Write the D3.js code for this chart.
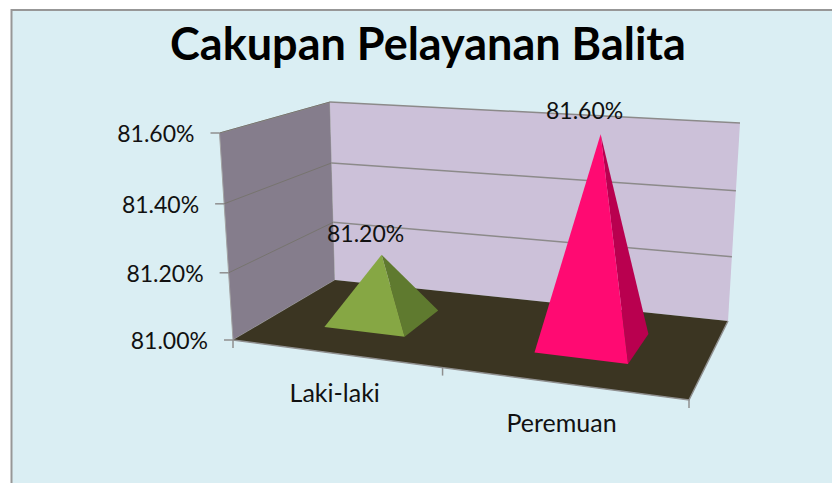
<!DOCTYPE html>
<html>
<head>
<meta charset="utf-8">
<script src="https://cdn.jsdelivr.net/npm/d3@7"></script>
<style>
  html, body { margin: 0; padding: 0; background: #fff; overflow: hidden; }
  text { font-family: Lato, sans-serif; fill: #111; }
</style>
</head>
<body>
<div id="chart"></div>
<script>
const categories = ["Laki-laki", "Peremuan"];
const values = [0.812, 0.816];
const yTicks = [0.81, 0.812, 0.814, 0.816];
const colors = ["#86a744", "#ff0a72"];
const sideColors = ["#5f7a2f", "#b9004f"];

const width = 832;
const height = 483;
const pct = d3.format(".2%");

// corners of the 3d box on screen, floor and top plane
const floor = [[233, 340], [689, 400], [728, 321], [335, 280]];
const top3d = [[219.5, 133], [700, 163], [740, 123], [330, 102]];

// unit square -> quad
function quadMap(q) {
    const [[x0, y0], [x1, y1], [x2, y2], [x3, y3]] = q;
    const dx1 = x1 - x2, dx2 = x3 - x2, sx = x0 - x1 + x2 - x3;
    const dy1 = y1 - y2, dy2 = y3 - y2, sy = y0 - y1 + y2 - y3;
    const den = dx1 * dy2 - dx2 * dy1;
    const g = (sx * dy2 - dx2 * sy) / den;
    const h = (dx1 * sy - sx * dy1) / den;
    return (u, w) => {
        const d = 1 + g * u + h * w;
        return [
            (x0 + (x1 - x0 + g * x1) * u + (x3 - x0 + h * x3) * w) / d,
            (y0 + (y1 - y0 + g * y1) * u + (y3 - y0 + h * y3) * w) / d
        ];
    };
}
const floorAt = quadMap(floor);
const topAt = quadMap(top3d);

// u along categories, v up the value axis, w into the depth
function project(u, v, w) {
    const a = floorAt(u, w), b = topAt(u, w);
    const t = v / (1 + 0.04 * (1 - v)); // gridlines spread a bit going up
    return [a[0] + (b[0] - a[0]) * t, a[1] + (b[1] - a[1]) * t];
}

const xScale = d3.scaleBand().domain(categories).range([0, 1]).paddingInner(0.6).paddingOuter(0.3);
const zScale = d3.scaleBand().domain(["s"]).range([0, 1]).paddingInner(0.6).paddingOuter(0.3);
const yScale = d3.scaleLinear().domain([0.81, 0.816]).range([0, 1]);

const svg = d3.select("#chart").append("svg")
    .attr("width", width)
    .attr("height", height)
    .style("display", "block");

svg.append("rect")
    .attr("x", 11.5).attr("y", 10)
    .attr("width", width).attr("height", height)
    .attr("fill", "#daeef3")
    .attr("stroke", "#979797").attr("stroke-width", 2);

svg.append("text")
    .text("Cakupan Pelayanan Balita")
    .attr("x", 428).attr("y", 60)
    .attr("text-anchor", "middle")
    .attr("font-size", 45).attr("font-weight", 700)
    .style("fill", "#000");

const line = d3.line();
const poly = pts => line(pts) + "Z";

// walls
svg.append("path")
    .attr("d", poly([project(0, 0, 0), project(0, 0, 1), project(0, 1, 1), project(0, 1, 0)]))
    .attr("fill", "#857d8c").attr("stroke", "#a3a3a3");
svg.append("path")
    .attr("d", poly([project(0, 0, 1), project(1, 0, 1), project(1, 1, 1), project(0, 1, 1)]))
    .attr("fill", "#ccc1d9").attr("stroke", "none");
svg.append("path")
    .attr("d", poly([project(0, 0, 0), project(1, 0, 0), project(1, 0, 1), project(0, 0, 1)]))
    .attr("fill", "#3b3522").attr("stroke", "none");

// gridlines
yTicks.slice(1).forEach(t => {
    const v = yScale(t);
    svg.append("path").attr("d", line([project(0, v, 0), project(0, v, 1)]))
        .attr("fill", "none").attr("stroke", "#77746f").attr("stroke-width", 1);
    svg.append("path").attr("d", line([project(0, v, 1), project(1, v, 1)]))
        .attr("fill", "none").attr("stroke", "#8c8a8a").attr("stroke-width", 1.5);
});
svg.append("path").attr("d", line([project(0, 0, 0), project(1, 0, 0), project(1, 0, 1)]))
    .attr("fill", "none").attr("stroke", "#8f8f8f").attr("stroke-width", 1.5);

// y axis ticks + labels
yTicks.forEach(t => {
    const [x, y] = project(0, yScale(t), 0);
    svg.append("line")
        .attr("x1", x - 9).attr("x2", x).attr("y1", y).attr("y2", y)
        .attr("stroke", "#8f8f8f").attr("stroke-width", 1.5);
    svg.append("text")
        .text(pct(t))
        .attr("x", x - 25).attr("y", y + 9)
        .attr("text-anchor", "end")
        .attr("font-size", 23);
});

// x axis ticks
[0, 0.5, 1].forEach(u => {
    const [x, y] = project(u, 0, 0);
    svg.append("line")
        .attr("x1", x).attr("x2", x).attr("y1", y).attr("y2", y + 8)
        .attr("stroke", "#8f8f8f").attr("stroke-width", 1.5);
});

// pyramids
categories.forEach((c, i) => {
    const u0 = xScale(c), u1 = u0 + xScale.bandwidth();
    const w0 = zScale("s"), w1 = w0 + zScale.bandwidth();
    const v = yScale(values[i]);
    const apex = project((u0 + u1) / 2, v, (w0 + w1) / 2);
    svg.append("path")
        .attr("d", poly([project(u1, 0, w0), project(u1, 0, w1), apex]))
        .attr("fill", sideColors[i]);
    svg.append("path")
        .attr("d", poly([project(u0, 0, w0), project(u1, 0, w0), apex]))
        .attr("fill", colors[i]);

    svg.append("text")
        .text(pct(values[i]))
        .attr("x", apex[0] - 16).attr("y", apex[1] - 12 - 3 * v)
        .attr("text-anchor", "middle")
        .attr("font-size", 23);

    const base = project((u0 + u1) / 2, 0, 0);
    svg.append("text")
        .text(c)
        .attr("x", base[0] + 1).attr("y", base[1] + 49)
        .attr("text-anchor", "middle")
        .attr("font-size", 25);
});
</script>
</body>
</html>
